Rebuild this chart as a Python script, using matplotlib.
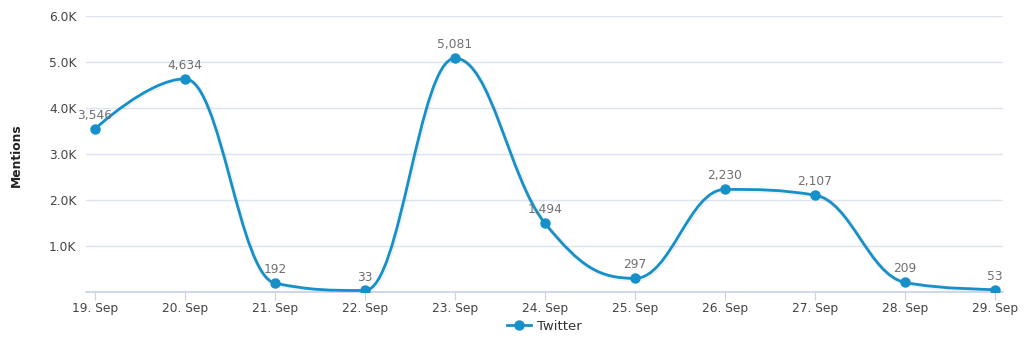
import numpy as np
import matplotlib
matplotlib.use("Agg")
import matplotlib.pyplot as plt
from matplotlib.path import Path
from matplotlib.patches import PathPatch
from matplotlib.ticker import FuncFormatter

days = ["19. Sep", "20. Sep", "21. Sep", "22. Sep", "23. Sep", "24. Sep",
        "25. Sep", "26. Sep", "27. Sep", "28. Sep", "29. Sep"]
twitter = [3546, 4634, 192, 33, 5081, 1494, 297, 2230, 2107, 209, 53]
y_ticks = [1000, 2000, 3000, 4000, 5000, 6000]

LINE = "#1590c9"
GRID = "#dde3f2"
AXIS = "#c6d1e8"


def spline_path(xs, ys, smoothing=1.5):
    """Cubic bezier path through the points, Highcharts-style spline."""
    n = len(xs)
    denom = smoothing + 1
    lc = [(x, y) for x, y in zip(xs, ys)]
    rc = [(x, y) for x, y in zip(xs, ys)]
    for i in range(1, n - 1):
        px, py = xs[i], ys[i]
        lx, ly = xs[i - 1], ys[i - 1]
        nx, ny = xs[i + 1], ys[i + 1]
        lcx = (smoothing * px + lx) / denom
        lcy = (smoothing * py + ly) / denom
        rcx = (smoothing * px + nx) / denom
        rcy = (smoothing * py + ny) / denom
        if rcx != lcx:
            corr = (rcy - lcy) * (rcx - px) / (rcx - lcx) + py - rcy
            lcy += corr
            rcy += corr
        # keep the curve from overshooting its neighbours
        if lcy > ly and lcy > py:
            lcy = max(ly, py)
            rcy = 2 * py - lcy
        elif lcy < ly and lcy < py:
            lcy = min(ly, py)
            rcy = 2 * py - lcy
        if rcy > ny and rcy > py:
            rcy = max(ny, py)
            lcy = 2 * py - rcy
        elif rcy < ny and rcy < py:
            rcy = min(ny, py)
            lcy = 2 * py - rcy
        lc[i] = (lcx, lcy)
        rc[i] = (rcx, rcy)
    verts = [(xs[0], ys[0])]
    codes = [Path.MOVETO]
    for i in range(1, n):
        verts += [rc[i - 1], lc[i], (xs[i], ys[i])]
        codes += [Path.CURVE4] * 3
    return Path(verts, codes)


fig = plt.figure(figsize=(10.24, 3.5), dpi=100)
ax = fig.add_axes([86 / 1024, 58 / 350, 917 / 1024, 276 / 350])

x = np.arange(len(days))
path = spline_path(list(x), twitter)

# soft shadow under the line
shadow = PathPatch(path, facecolor="none", edgecolor="#000000", lw=3.5, alpha=0.05,
                   transform=matplotlib.transforms.offset_copy(ax.transData, fig=fig, x=1, y=-1, units="dots"),
                   zorder=2)
ax.add_patch(shadow)
ax.add_patch(PathPatch(path, facecolor="none", edgecolor=LINE, lw=2.0, zorder=3,
                       capstyle="round", joinstyle="round"))
ax.plot(x, twitter, linestyle="none", marker="o", ms=6.5, color=LINE, zorder=4)

for xi, v in zip(x, twitter):
    ax.annotate(f"{v:,}", (xi, v), xytext=(0, 5), textcoords="offset points",
                ha="center", va="bottom", fontsize=8.8, color="#707070", zorder=5)

ax.set_xlim(-0.1, 10.09)
ax.set_ylim(0, 6000)
ax.set_xticks(x)
ax.set_xticklabels(days)
ax.set_yticks(y_ticks)
ax.yaxis.set_major_formatter(FuncFormatter(lambda v, _: f"{v / 1000:.1f}K"))

ax.grid(axis="y", color=GRID, lw=1)
ax.set_axisbelow(True)
for side in ["top", "right", "left"]:
    ax.spines[side].set_visible(False)
ax.spines["bottom"].set_color(AXIS)
ax.spines["bottom"].set_linewidth(1.2)
ax.tick_params(axis="x", length=6, color=AXIS, colors="#444444", labelsize=8.8, pad=1)
ax.tick_params(axis="y", length=0, colors="#444444", labelsize=8.8, pad=7)

fig.text(16 / 1024, 1 - 155 / 350, "Mentions", rotation=90, ha="center", va="center",
         fontsize=8.8, fontweight="bold", color="#222222")

leg = ax.legend([plt.Line2D([], [], color=LINE, lw=2.0, marker="o", ms=6.5)], ["Twitter"],
                loc="center", bbox_to_anchor=(0.5, -0.125), frameon=False,
                fontsize=9.5, handlelength=1.8, handletextpad=0.5)
for t in leg.get_texts():
    t.set_color("#333333")

fig.savefig("out.png", dpi=100)
